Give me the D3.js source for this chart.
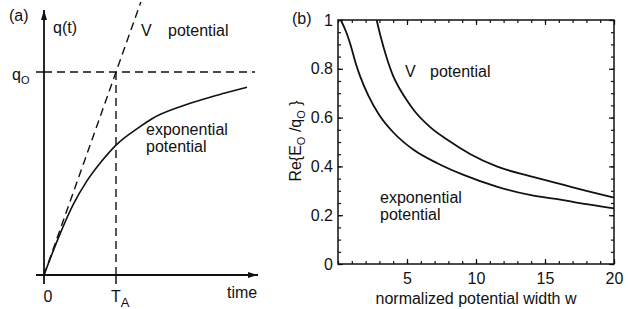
<!DOCTYPE html>
<html>
<head>
<meta charset="utf-8">
<script src="https://cdn.jsdelivr.net/npm/d3@7"></script>
<style>
  body { margin: 0; background: #fff; }
  svg { display: block; font-family: "Liberation Sans", Arial, Helvetica, sans-serif; }
  text { fill: #111; }
</style>
</head>
<body>
<svg id="fig" width="632" height="309"></svg>
<script>
// panel (a): time in units of T_A, charge in units of q0
let expT = [0, 0.22, 0.41, 0.59, 0.8, 1.0, 1.33, 1.5, 1.9, 2.2, 2.5, 2.82];
let expQ = [0, 0.2, 0.35, 0.46, 0.56, 0.64, 0.73, 0.77, 0.83, 0.865, 0.895, 0.925];
let vT = [0, 1.345];
let vQ = [0, 1.345];

// panel (b): normalized potential width w vs Re{E0/q0}
let wV = [2.8, 3.1, 3.5, 4.0, 4.5, 5.0, 5.5, 6.7, 7.9, 9.6, 11.5, 13.9, 16.3, 18, 20];
let eV = [1.0, 0.93, 0.85, 0.77, 0.715, 0.67, 0.63, 0.56, 0.51, 0.45, 0.40, 0.36, 0.325, 0.30, 0.272];
let wExp = [0.2, 0.6, 0.9, 1.3, 1.6, 2.2, 3.0, 4.0, 5.5, 7.2, 9.1, 11.5, 13.9, 16.3, 18, 20];
let eExp = [1.0, 0.95, 0.90, 0.82, 0.77, 0.69, 0.61, 0.54, 0.467, 0.413, 0.365, 0.317, 0.283, 0.262, 0.245, 0.228];

let xTicksB = [5, 10, 15, 20];
let yTicksB = [0, 0.2, 0.4, 0.6, 0.8, 1];

let svg = d3.select("#fig");
let ink = "#111";

svg.append("defs").append("marker")
    .attr("id", "arrow")
    .attr("viewBox", "0 0 10 6")
    .attr("refX", 10).attr("refY", 3)
    .attr("markerWidth", 10).attr("markerHeight", 6)
    .attr("markerUnits", "userSpaceOnUse")
    .attr("orient", "auto")
  .append("path")
    .attr("d", "M0,0L10,3L0,6Z")
    .attr("fill", ink);

// ---------- panel (a) ----------
let xa = d3.scaleLinear().domain([0, 3]).range([44, 260]);
let ya = d3.scaleLinear().domain([0, 1]).range([275, 72]);
let ga = svg.append("g");

// axes with arrows
ga.append("line")
    .attr("x1", xa(0)).attr("y1", 284).attr("x2", xa(0)).attr("y2", 10)
    .attr("stroke", ink).attr("stroke-width", 1.8).attr("marker-end", "url(#arrow)");
ga.append("line")
    .attr("x1", 36).attr("y1", ya(0)).attr("x2", 258).attr("y2", ya(0))
    .attr("stroke", ink).attr("stroke-width", 1.8).attr("marker-end", "url(#arrow)");
// tick at T_A and q0
ga.append("line")
    .attr("x1", xa(1)).attr("x2", xa(1)).attr("y1", ya(0)).attr("y2", 284)
    .attr("stroke", ink).attr("stroke-width", 1.5);
ga.append("line")
    .attr("x1", 36).attr("x2", xa(0)).attr("y1", ya(1)).attr("y2", ya(1))
    .attr("stroke", ink).attr("stroke-width", 1.5);

// dashed guides
ga.append("line")
    .attr("x1", xa(0)).attr("x2", xa(2.93)).attr("y1", ya(1)).attr("y2", ya(1))
    .attr("stroke", ink).attr("stroke-width", 1.4).attr("stroke-dasharray", "8,5");
ga.append("line")
    .attr("x1", xa(1)).attr("x2", xa(1)).attr("y1", ya(1)).attr("y2", ya(0))
    .attr("stroke", ink).attr("stroke-width", 1.4).attr("stroke-dasharray", "8,5");

let lineA = d3.line()
    .x(function(d) { return xa(d[0]); })
    .y(function(d) { return ya(d[1]); });

ga.append("path")
    .datum(d3.zip(vT, vQ))
    .attr("d", lineA)
    .attr("fill", "none").attr("stroke", ink).attr("stroke-width", 1.4)
    .attr("stroke-dasharray", "8,5");

ga.append("path")
    .datum(d3.zip(expT, expQ))
    .attr("d", lineA.curve(d3.curveMonotoneX))
    .attr("fill", "none").attr("stroke", ink).attr("stroke-width", 1.6);

ga.append("text").attr("x", 9).attr("y", 21).attr("font-size", 16).text("(a)");
ga.append("text").attr("x", 53).attr("y", 33).attr("font-size", 16).text("q(t)");
let q0 = ga.append("text").attr("x", 12).attr("y", 80).attr("font-size", 16);
q0.append("tspan").text("q");
q0.append("tspan").attr("font-size", 11).attr("dy", 4).text("O");
ga.append("text").attr("x", 141).attr("y", 36).attr("font-size", 16).text("V");
ga.append("text").attr("x", 168).attr("y", 36).attr("font-size", 16).text("potential");
ga.append("text").attr("x", 146).attr("y", 135).attr("font-size", 16).text("exponential");
ga.append("text").attr("x", 146).attr("y", 152).attr("font-size", 16).text("potential");
ga.append("text").attr("x", xa(0) + 4).attr("y", 302).attr("font-size", 16)
    .attr("text-anchor", "middle").text("0");
let ta = ga.append("text").attr("x", xa(1) - 5).attr("y", 302).attr("font-size", 16);
ta.append("tspan").text("T");
ta.append("tspan").attr("font-size", 13).attr("dy", 5).text("A");
ga.append("text").attr("x", 227).attr("y", 298).attr("font-size", 16).text("time");

// ---------- panel (b) ----------
let xb = d3.scaleLinear().domain([0, 20]).range([338, 614]);
let yb = d3.scaleLinear().domain([0, 1]).range([264, 20]);
let gb = svg.append("g");

function tickAxis(axis, values, size, fmt) {
  return axis.tickValues(values).tickSizeInner(size).tickSizeOuter(0).tickFormat(fmt);
}
let minorX = d3.range(0, 21, 1);
let minorY = d3.range(0, 21, 1).map(function(i) { return i / 20; });
let blank = function() { return ""; };

[
  [d3.axisBottom(xb), "translate(0," + yb(0) + ")", true],
  [d3.axisTop(xb), "translate(0," + yb(1) + ")", false],
  [d3.axisLeft(yb), "translate(" + xb(0) + ",0)", true],
  [d3.axisRight(yb), "translate(" + xb(20) + ",0)", false]
].forEach(function(a, i) {
  let isX = i < 2;
  let minor = gb.append("g").attr("transform", a[1])
      .call(tickAxis(a[0], isX ? minorX : minorY, -3, blank));
  minor.select(".domain").remove();
  minor.selectAll("line").attr("stroke", ink).attr("stroke-width", 1);
});

gb.append("g").attr("transform", "translate(0," + yb(0) + ")")
    .call(tickAxis(d3.axisBottom(xb), xTicksB, -5, d3.format("d")).tickPadding(9));
gb.append("g").attr("transform", "translate(" + xb(0) + ",0)")
    .call(tickAxis(d3.axisLeft(yb), yTicksB, -5, function(d) { return String(d); }).tickPadding(5));
gb.append("g").attr("transform", "translate(0," + yb(1) + ")")
    .call(tickAxis(d3.axisTop(xb), xTicksB, -5, blank));
gb.append("g").attr("transform", "translate(" + xb(20) + ",0)")
    .call(tickAxis(d3.axisRight(yb), yTicksB, -5, blank));
gb.selectAll(".domain").remove();
gb.selectAll(".tick line").attr("stroke", ink).attr("stroke-width", 1.2);
gb.selectAll(".tick text").attr("font-size", 16).attr("font-family", null).attr("fill", ink);

gb.append("rect")
    .attr("x", xb(0)).attr("y", yb(1))
    .attr("width", xb(20) - xb(0)).attr("height", yb(0) - yb(1))
    .attr("fill", "none").attr("stroke", ink).attr("stroke-width", 1.5);

let lineB = d3.line()
    .x(function(d) { return xb(d[0]); })
    .y(function(d) { return yb(d[1]); })
    .curve(d3.curveMonotoneX);

gb.append("path").datum(d3.zip(wV, eV)).attr("d", lineB)
    .attr("fill", "none").attr("stroke", ink).attr("stroke-width", 1.8);
gb.append("path").datum(d3.zip(wExp, eExp)).attr("d", lineB)
    .attr("fill", "none").attr("stroke", ink).attr("stroke-width", 1.8);

gb.append("text").attr("x", 292).attr("y", 24).attr("font-size", 16).text("(b)");
gb.append("text").attr("x", 405).attr("y", 77).attr("font-size", 16).text("V");
gb.append("text").attr("x", 430).attr("y", 77).attr("font-size", 16).text("potential");
gb.append("text").attr("x", 380).attr("y", 203).attr("font-size", 16).text("exponential");
gb.append("text").attr("x", 380).attr("y", 220).attr("font-size", 16).text("potential");
gb.append("text").attr("x", 476).attr("y", 304).attr("font-size", 16)
    .attr("text-anchor", "middle").text("normalized potential width w");

let yl = gb.append("text").attr("font-size", 16)
    .attr("text-anchor", "middle")
    .attr("transform", "translate(301,141) rotate(-90)");
yl.append("tspan").text("Re{E");
yl.append("tspan").attr("font-size", 11).attr("dy", 4).text("O");
yl.append("tspan").attr("dy", -4).text(" /q");
yl.append("tspan").attr("font-size", 11).attr("dy", 4).text("O");
yl.append("tspan").attr("dy", -4).text(" }");
</script>
</body>
</html>
